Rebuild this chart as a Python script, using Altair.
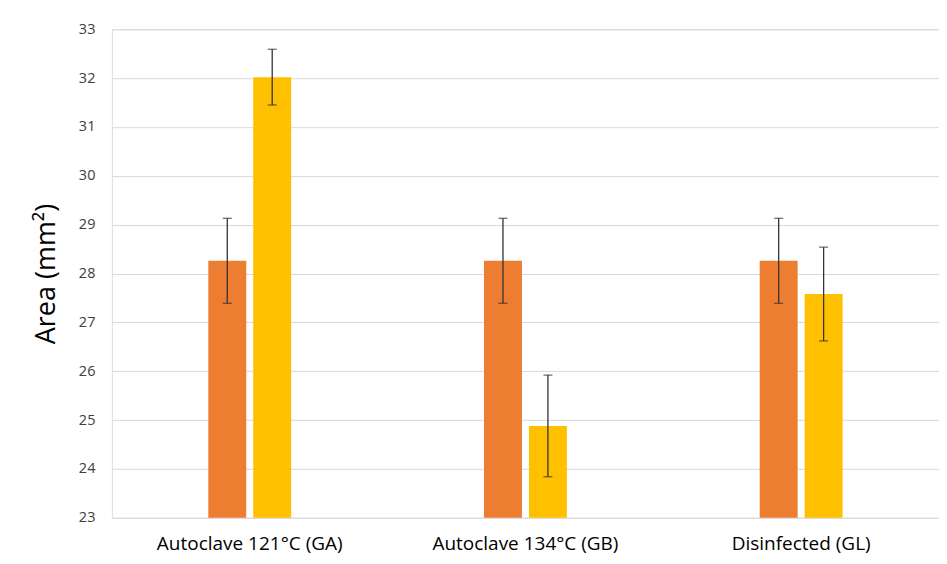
import altair as alt
import pandas as pd

categories = ["Autoclave 121°C (GA)", "Autoclave 134°C (GB)", "Disinfected (GL)"]
series = ["Series 1", "Series 2"]
series1_mean = [28.26, 28.26, 28.26]
series1_err = [0.87, 0.87, 0.87]
series2_mean = [32.02, 24.88, 27.58]
series2_err = [0.57, 1.04, 0.96]
y_ticks = [23, 24, 25, 26, 27, 28, 29, 30, 31, 32, 33]
colors = ["#ED7D31", "#FFC000"]

rows = []
for i, c in enumerate(categories):
    for s, m, e in ((series[0], series1_mean[i], series1_err[i]), (series[1], series2_mean[i], series2_err[i])):
        rows.append({"cat": c, "series": s, "mean": m, "lo": m - e, "hi": m + e})
df = pd.DataFrame(rows)

font = "Open Sans"
x_scale = alt.Scale(paddingInner=0.674, paddingOuter=0.337)
x_axis = alt.Axis(labelAngle=0, labelFontSize=19, labelColor="#000000", labelFont=font,
                  labelPadding=17, labelLimit=400, ticks=False, domain=False, grid=False)
y_axis = alt.Axis(values=y_ticks, labelFontSize=14.5, labelColor="#404040",
                  labelFont=font, labelPadding=17, ticks=False, domain=False, labelOverlap=False,
                  gridColor="#d9d9d9", gridWidth=1, titleFontSize=27, titleFont=font,
                  titleFontWeight="normal", titleColor="#000000", titlePadding=18)
y_scale = alt.Scale(domain=[23, 33], zero=False, nice=False)
xo = alt.XOffset("series:N", sort=series, scale=alt.Scale(paddingInner=0.156, paddingOuter=0.078))


def xe():
    return alt.X("cat:N", sort=categories, title=None, scale=x_scale, axis=x_axis)


def ye(field):
    return alt.Y(field, scale=y_scale, title="Area (mm²)", axis=y_axis)


bars = alt.Chart(df).mark_bar().encode(
    x=xe(), xOffset=xo, y=ye("mean:Q"), y2=alt.datum(23),
    color=alt.Color("series:N", sort=series, scale=alt.Scale(domain=series, range=colors), legend=None),
)

rules = alt.Chart(df).mark_rule(color="#333333", strokeWidth=1.3).encode(
    x=xe(), xOffset=xo, y=ye("lo:Q"), y2="hi:Q")

caps_lo = alt.Chart(df).mark_tick(color="#333333", thickness=1.3, size=9).encode(
    x=xe(), xOffset=xo, y=ye("lo:Q"))
caps_hi = alt.Chart(df).mark_tick(color="#333333", thickness=1.3, size=9).encode(
    x=xe(), xOffset=xo, y=ye("hi:Q"))

chart = alt.layer(bars, rules, caps_lo, caps_hi).properties(
    width=828, height=489,
    padding={"left": 24, "top": 13, "right": 0, "bottom": 5},
).configure_view(stroke=None).configure(background="#ffffff")

chart.save("out.html", embed_options={"renderer": "svg", "actions": False})
